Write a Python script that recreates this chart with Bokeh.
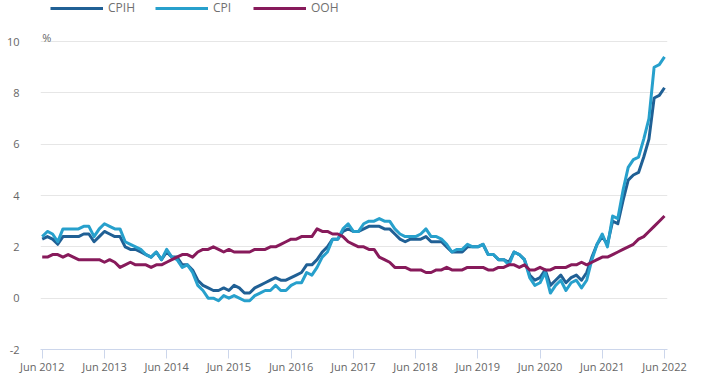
import pandas as pd
from bokeh.plotting import figure
from bokeh.models import Range1d, FixedTicker, Legend, LegendItem, Label
from bokeh.embed import file_html
from bokeh.resources import INLINE

# Monthly periods, Jun 2012 .. Jun 2022
months = [m.strftime("%b %Y") for m in pd.period_range("2012-06", "2022-06", freq="M")]

cpih = [2.3, 2.4, 2.3, 2.1, 2.4, 2.4, 2.4,
        2.4, 2.5, 2.5, 2.2, 2.4, 2.6, 2.5, 2.4, 2.4, 2.0, 1.9, 1.9,
        1.8, 1.7, 1.6, 1.8, 1.5, 1.8, 1.6, 1.6, 1.3, 1.3, 1.1, 0.7,
        0.5, 0.4, 0.3, 0.3, 0.4, 0.3, 0.5, 0.4, 0.2, 0.2, 0.4, 0.5,
        0.6, 0.7, 0.8, 0.7, 0.7, 0.8, 0.9, 1.0, 1.3, 1.3, 1.5, 1.8,
        2.0, 2.3, 2.3, 2.6, 2.7, 2.6, 2.6, 2.7, 2.8, 2.8, 2.8, 2.7,
        2.7, 2.5, 2.3, 2.2, 2.3, 2.3, 2.3, 2.4, 2.2, 2.2, 2.2, 2.0,
        1.8, 1.8, 1.8, 2.0, 2.0, 2.0, 2.1, 1.7, 1.7, 1.5, 1.5, 1.4,
        1.8, 1.7, 1.5, 0.9, 0.7, 0.8, 1.1, 0.5, 0.7, 0.9, 0.6, 0.8,
        0.9, 0.7, 1.0, 1.6, 2.1, 2.4, 2.1, 3.0, 2.9, 3.8, 4.6, 4.8,
        4.9, 5.5, 6.2, 7.8, 7.9, 8.2]

cpi = [2.4, 2.6, 2.5, 2.2, 2.7, 2.7, 2.7,
       2.7, 2.8, 2.8, 2.4, 2.7, 2.9, 2.8, 2.7, 2.7, 2.2, 2.1, 2.0,
       1.9, 1.7, 1.6, 1.8, 1.5, 1.9, 1.6, 1.5, 1.2, 1.3, 1.0, 0.5,
       0.3, 0.0, 0.0, -0.1, 0.1, 0.0, 0.1, 0.0, -0.1, -0.1, 0.1, 0.2,
       0.3, 0.3, 0.5, 0.3, 0.3, 0.5, 0.6, 0.6, 1.0, 0.9, 1.2, 1.6,
       1.8, 2.3, 2.3, 2.7, 2.9, 2.6, 2.6, 2.9, 3.0, 3.0, 3.1, 3.0,
       3.0, 2.7, 2.5, 2.4, 2.4, 2.4, 2.5, 2.7, 2.4, 2.4, 2.3, 2.1,
       1.8, 1.9, 1.9, 2.1, 2.0, 2.0, 2.1, 1.7, 1.7, 1.5, 1.5, 1.3,
       1.8, 1.7, 1.5, 0.8, 0.5, 0.6, 1.0, 0.2, 0.5, 0.7, 0.3, 0.6,
       0.7, 0.4, 0.7, 1.5, 2.1, 2.5, 2.0, 3.2, 3.1, 4.2, 5.1, 5.4,
       5.5, 6.2, 7.0, 9.0, 9.1, 9.4]

ooh = [1.6, 1.6, 1.7, 1.7, 1.6, 1.7, 1.6,
       1.5, 1.5, 1.5, 1.5, 1.5, 1.4, 1.5, 1.4, 1.2, 1.3, 1.4, 1.3,
       1.3, 1.3, 1.2, 1.3, 1.3, 1.4, 1.5, 1.6, 1.7, 1.7, 1.6, 1.8,
       1.9, 1.9, 2.0, 1.9, 1.8, 1.9, 1.8, 1.8, 1.8, 1.8, 1.9, 1.9,
       1.9, 2.0, 2.0, 2.1, 2.2, 2.3, 2.3, 2.4, 2.4, 2.4, 2.7, 2.6,
       2.6, 2.5, 2.5, 2.4, 2.2, 2.1, 2.0, 2.0, 1.9, 1.9, 1.6, 1.5,
       1.4, 1.2, 1.2, 1.2, 1.1, 1.1, 1.1, 1.0, 1.0, 1.1, 1.1, 1.2,
       1.1, 1.1, 1.1, 1.2, 1.2, 1.2, 1.2, 1.1, 1.1, 1.2, 1.2, 1.3,
       1.3, 1.2, 1.3, 1.1, 1.1, 1.2, 1.1, 1.1, 1.2, 1.2, 1.2, 1.3,
       1.3, 1.4, 1.3, 1.4, 1.5, 1.6, 1.6, 1.7, 1.8, 1.9, 2.0, 2.1,
       2.3, 2.4, 2.6, 2.8, 3.0, 3.2]

tick_labels = ["Jun 2012", "Jun 2013", "Jun 2014", "Jun 2015", "Jun 2016", "Jun 2017",
               "Jun 2018", "Jun 2019", "Jun 2020", "Jun 2021", "Jun 2022"]
y_ticks = [-2, 0, 2, 4, 6, 8, 10]
y_tick_labels = ["-2", "0", "2", "4", "6", "8", "10"]

x = list(range(len(months)))
x_ticks = [months.index(t) for t in tick_labels]

FONT = "Open Sans"
TXT = "#666666"

# frame spans the whole height above the x axis, so the legend and "%" sit inside it
p = figure(width=700, height=380, output_backend="svg", toolbar_location=None,
           x_range=Range1d(-0.33, 120.58), y_range=Range1d(-2, 11.6),
           min_border_left=40, min_border_right=33, min_border_top=0, min_border_bottom=31,
           outline_line_color=None)
p.background_fill_color = "white"
p.border_fill_color = "white"

# x axis
p.xaxis.ticker = FixedTicker(ticks=x_ticks)
p.xaxis.major_label_overrides = {t: l for t, l in zip(x_ticks, tick_labels)}
p.xaxis.axis_line_color = "#ccd6eb"
p.xaxis.major_tick_line_color = "#ccd6eb"
p.xaxis.major_tick_in = 0
p.xaxis.major_tick_out = 9
p.xaxis.minor_tick_line_color = None
p.xaxis.major_label_standoff = 0
p.xaxis.major_label_text_font = FONT
p.xaxis.major_label_text_font_size = "11px"
p.xaxis.major_label_text_color = TXT

# y axis
p.yaxis.ticker = FixedTicker(ticks=y_ticks)
p.yaxis.major_label_overrides = {t: l for t, l in zip(y_ticks, y_tick_labels)}
p.yaxis.axis_line_color = None
p.yaxis.major_tick_line_color = None
p.yaxis.minor_tick_line_color = None
p.yaxis.major_label_standoff = 15
p.yaxis.major_label_text_font = FONT
p.yaxis.major_label_text_font_size = "11px"
p.yaxis.major_label_text_color = TXT

p.xgrid.visible = False
p.ygrid.ticker = FixedTicker(ticks=y_ticks)
p.ygrid.grid_line_color = "#e6e6e6"

r1 = p.line(x, cpih, line_color="#206095", line_width=3, line_join="round")
r2 = p.line(x, cpi, line_color="#27a0cc", line_width=3, line_join="round")
r3 = p.line(x, ooh, line_color="#871a5b", line_width=3, line_join="round")

legend = Legend(items=[LegendItem(label="CPIH", renderers=[r1]),
                       LegendItem(label="CPI", renderers=[r2]),
                       LegendItem(label="OOH", renderers=[r3])],
                orientation="horizontal", location=(10, 333),
                glyph_width=53, glyph_height=14, label_height=14,
                label_standoff=5, spacing=20, padding=0, margin=0,
                border_line_color=None, background_fill_alpha=0,
                label_text_font=FONT, label_text_font_size="12px",
                label_text_color="#707070")
p.add_layout(legend)

p.add_layout(Label(x=0, y=10.14, text="%", text_baseline="alphabetic",
                   text_font=FONT, text_font_size="11px", text_color=TXT))

open("out.html", "w").write(file_html(p, INLINE))
